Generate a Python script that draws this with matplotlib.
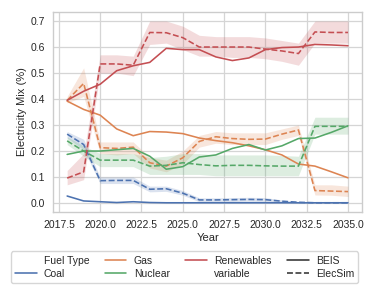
import numpy as np
import matplotlib
matplotlib.use("Agg")
import matplotlib.pyplot as plt
import seaborn as sns
from matplotlib.lines import Line2D

sns.set_style("whitegrid")
plt.rcParams["font.family"] = ["Liberation Sans", "DejaVu Sans"]

years = list(range(2018, 2036))

# BEIS projections (solid)
coal_beis = [0.027, 0.008, 0.005, 0.002, 0.005, 0.002, 0.001, 0.001, 0.001, 0.001,
             0.001, 0.001, 0.001, 0.001, 0.001, 0.001, 0.001, 0.001]
gas_beis = [0.392, 0.36, 0.338, 0.285, 0.259, 0.275, 0.273, 0.267, 0.25, 0.24,
            0.232, 0.22, 0.205, 0.185, 0.15, 0.142, 0.12, 0.097]
nuclear_beis = [0.187, 0.2, 0.2, 0.205, 0.21, 0.18, 0.13, 0.14, 0.177, 0.185,
                0.21, 0.225, 0.204, 0.22, 0.248, 0.25, 0.272, 0.297]
renew_beis = [0.395, 0.43, 0.457, 0.509, 0.528, 0.541, 0.595, 0.59, 0.59, 0.562,
              0.548, 0.558, 0.59, 0.598, 0.6, 0.61, 0.608, 0.605]

# ElecSim runs (dashed, mean and band)
coal_sim = [0.265, 0.225, 0.086, 0.087, 0.087, 0.053, 0.055, 0.038, 0.012, 0.012,
            0.013, 0.014, 0.013, 0.007, 0.003, 0.001, 0.001, 0.001]
coal_lo = [0.25, 0.205, 0.075, 0.075, 0.075, 0.043, 0.045, 0.03, 0.005, 0.005,
           0.006, 0.007, 0.006, 0.002, 0.0, 0.0, 0.0, 0.0]
coal_hi = [0.275, 0.245, 0.1, 0.1, 0.1, 0.065, 0.065, 0.048, 0.02, 0.02,
           0.021, 0.022, 0.021, 0.012, 0.006, 0.002, 0.002, 0.002]
gas_sim = [0.395, 0.46, 0.213, 0.21, 0.215, 0.155, 0.142, 0.174, 0.237, 0.255,
           0.248, 0.245, 0.246, 0.265, 0.281, 0.048, 0.046, 0.044]
gas_lo = [0.385, 0.41, 0.19, 0.185, 0.19, 0.135, 0.12, 0.15, 0.215, 0.23,
          0.225, 0.225, 0.225, 0.245, 0.26, 0.031, 0.03, 0.025]
gas_hi = [0.41, 0.52, 0.235, 0.235, 0.235, 0.175, 0.165, 0.2, 0.26, 0.275,
          0.27, 0.27, 0.27, 0.285, 0.3, 0.07, 0.07, 0.065]
nuclear_sim = [0.239, 0.2, 0.165, 0.165, 0.165, 0.142, 0.145, 0.155, 0.148, 0.143,
               0.145, 0.145, 0.143, 0.142, 0.142, 0.295, 0.295, 0.295]
nuclear_lo = [0.225, 0.18, 0.14, 0.14, 0.14, 0.11, 0.11, 0.11, 0.11, 0.105,
              0.105, 0.105, 0.105, 0.105, 0.105, 0.265, 0.265, 0.265]
nuclear_hi = [0.255, 0.22, 0.19, 0.19, 0.19, 0.175, 0.18, 0.19, 0.19, 0.185,
              0.185, 0.185, 0.185, 0.183, 0.18, 0.33, 0.33, 0.33]
renew_sim = [0.096, 0.12, 0.535, 0.535, 0.53, 0.656, 0.655, 0.636, 0.6, 0.6,
             0.6, 0.6, 0.592, 0.585, 0.575, 0.658, 0.656, 0.656]
renew_lo = [0.07, 0.09, 0.5, 0.5, 0.49, 0.61, 0.615, 0.59, 0.565, 0.565,
            0.56, 0.56, 0.555, 0.545, 0.53, 0.615, 0.615, 0.615]
renew_hi = [0.125, 0.19, 0.57, 0.57, 0.565, 0.70, 0.70, 0.68, 0.645, 0.64,
            0.64, 0.64, 0.635, 0.625, 0.615, 0.70, 0.70, 0.70]

fuels = ["Coal", "Gas", "Nuclear", "Renewables"]
colors = ["#4C72B0", "#DD8452", "#55A868", "#C44E52"]
beis = [coal_beis, gas_beis, nuclear_beis, renew_beis]
sims = [coal_sim, gas_sim, nuclear_sim, renew_sim]
los = [coal_lo, gas_lo, nuclear_lo, renew_lo]
his = [coal_hi, gas_hi, nuclear_hi, renew_hi]

fig = plt.figure(figsize=(3.74, 2.91), dpi=100)
ax = fig.add_axes([0.142, 0.271, 0.826, 0.688])

for c, b, s, lo, hi in zip(colors, beis, sims, los, his):
    ax.fill_between(years, lo, hi, color=c, alpha=0.2, lw=0)
    ax.plot(years, b, color=c, lw=1.15)
    ax.plot(years, s, color=c, lw=1.15, ls=(0, (3.7, 1.6)))

ax.set_xticks(np.arange(2017.5, 2035.1, 2.5))
ax.set_yticks(np.arange(0, 0.71, 0.1))
ax.tick_params(labelsize=7.5, pad=2)
ax.set_xlabel("Year", fontsize=8, labelpad=2)
ax.set_ylabel("Electricity Mix (%)", fontsize=8, labelpad=3)
for sp in ax.spines.values():
    sp.set_color("#cccccc")
    sp.set_linewidth(1.0)
ax.grid(color="#d5d5d5", lw=0.9)

blank = Line2D([], [], color="none")
handles = [blank, Line2D([], [], color=colors[0], lw=1.15),
           Line2D([], [], color=colors[1], lw=1.15), Line2D([], [], color=colors[2], lw=1.15),
           Line2D([], [], color=colors[3], lw=1.15), blank,
           Line2D([], [], color="#333333", lw=1.15),
           Line2D([], [], color="#333333", lw=1.15, ls=(0, (3.7, 1.6)))]
labels = ["Fuel Type", "Coal", "Gas", "Nuclear", "Renewables", "variable", "BEIS", "ElecSim"]
fig.legend(handles, labels, ncol=4, loc="lower center", bbox_to_anchor=(0.493, 0.01),
           fontsize=7.5, frameon=True, edgecolor="#cccccc", handlelength=2.1,
           columnspacing=1.45, labelspacing=0.3, borderpad=0.4, handletextpad=0.7)

fig.savefig("out.png", dpi=100)
